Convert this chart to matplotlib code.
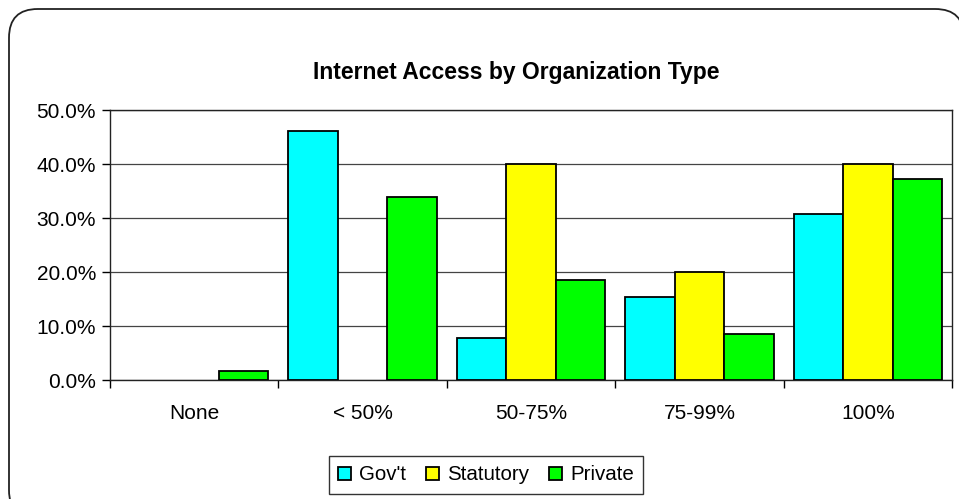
import numpy as np
import matplotlib.pyplot as plt
from matplotlib.patches import FancyBboxPatch, Patch
from matplotlib.ticker import PercentFormatter, FixedLocator

plt.rcParams['font.family'] = ['Liberation Sans', 'DejaVu Sans']

categories = ['None', '< 50%', '50-75%', '75-99%', '100%']
govt = [0.0, 46.2, 7.7, 15.4, 30.8]
statutory = [0.0, 0.0, 40.0, 20.0, 40.0]
private = [1.7, 33.9, 18.6, 8.5, 37.3]
series_names = ["Gov't", 'Statutory', 'Private']
colors = ['#00FFFF', '#FFFF00', '#00FF00']

fig = plt.figure(figsize=(9.59, 4.99), dpi=100)
W, H = 959, 499

# rounded outer frame of the chart area
frame = FancyBboxPatch((9 / W, -20 / H), 955 / W, (H - 9 + 20) / H,
                       boxstyle='round,pad=0,rounding_size=0.03',
                       transform=fig.transFigure, facecolor='white',
                       edgecolor='#222222', linewidth=1.3,
                       mutation_aspect=W / H, zorder=-1)
fig.patches.append(frame)

ax = fig.add_axes([110 / W, 1 - 380 / H, (952 - 110) / W, (380 - 110) / H])
ax.patch.set_alpha(0)

x = np.arange(len(categories))
width = 1 / 3.4
handles = []
for i, (vals, name, c) in enumerate(zip([govt, statutory, private], series_names, colors)):
    vals = np.array(vals)
    keep = vals > 0  # empty categories get no bar at all
    ax.bar(x[keep] + (i - 1) * width, vals[keep], width, color=c,
           edgecolor='black', linewidth=1.3, zorder=3)
    handles.append(Patch(facecolor=c, edgecolor='black', linewidth=1.3, label=name))

ax.set_xlim(-0.5, len(categories) - 0.5)
ax.set_ylim(0, 50)
ax.yaxis.set_major_locator(FixedLocator(np.arange(0, 51, 10)))
ax.yaxis.set_major_formatter(PercentFormatter(decimals=1))
ax.yaxis.grid(True, color='#444444', linewidth=0.9, zorder=0)

ax.set_xticks(x)
ax.set_xticklabels(categories)
ax.xaxis.set_minor_locator(FixedLocator(np.arange(-0.5, len(categories), 1)))
ax.tick_params(axis='x', which='major', length=0, pad=17, labelsize=15)
ax.tick_params(axis='x', which='minor', length=6, direction='out', width=1)
ax.tick_params(axis='y', length=6, direction='out', width=1, labelsize=15, pad=4)

for s in ax.spines.values():
    s.set_linewidth(1)
    s.set_color('#222222')

fig.text(516 / W, 1 - 73 / H, 'Internet Access by Organization Type',
         ha='center', va='center', fontsize=16.5, fontweight='bold')

leg = fig.legend(handles=handles, loc='center', bbox_to_anchor=(486 / W, 1 - 475 / H),
                 ncol=3, frameon=True, fancybox=False, fontsize=14.8,
                 handlelength=0.6, handleheight=0.6, handletextpad=0.4,
                 columnspacing=1.0, borderpad=0.45)
leg.get_frame().set_edgecolor('black')
leg.get_frame().set_linewidth(1)

fig.savefig('out.png', dpi=100)
